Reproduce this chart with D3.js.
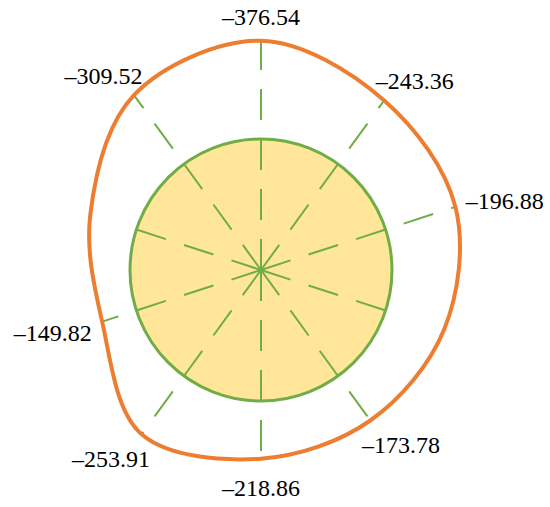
<!DOCTYPE html>
<html>
<head>
<meta charset="utf-8">
<script src="https://cdn.jsdelivr.net/npm/d3@7"></script>
<style>
  html, body { margin: 0; padding: 0; background: #ffffff; }
  svg { display: block; }
  text.lab { font-family: "Liberation Serif", "Times New Roman", Times, serif; }
</style>
</head>
<body>
<div id="chart"></div>
<script>
// ---- data ----
// axes, clockwise from 12 o'clock
const axisIndex = [0, 1, 2, 3, 4, 5, 6, 7, 8, 9];
// values printed at axis ends (null = no label)
const axisValues = [-376.54, -243.36, -196.88, null, -173.78, -218.86, -253.91, -149.82, null, -309.52];
// outer curve, relative to the inner reference circle (= 1)
const curveValues = [1.75, 1.60, 1.56, 1.47, 1.42, 1.44, 1.55, 1.275, 1.37, 1.65];
const innerValue = 1;

// ---- layout ----
const W = 550, H = 507;
const cx = 261, cy = 270;
const R = 131;

const svg = d3.select("#chart").append("svg")
  .attr("width", W).attr("height", H);

const g = svg.append("g").attr("transform", `translate(${cx},${cy})`);

const angle = d3.scaleLinear().domain([0, axisIndex.length]).range([0, 2 * Math.PI]);
const radius = d3.scaleLinear().domain([0, 1]).range([0, R]);

const green = "#70AD47", orange = "#ED7D31", fill = "#FFE699";

// inner filled circle
g.append("circle")
  .attr("r", radius(innerValue))
  .attr("fill", fill);

// spokes
const spokeR = i => radius(axisValues[i] === null ? innerValue : curveValues[i]);
g.selectAll("line.spoke")
  .data(axisIndex)
  .join("line")
  .attr("class", "spoke")
  .attr("x1", 0).attr("y1", 0)
  .attr("x2", i => spokeR(i) * Math.sin(angle(i)))
  .attr("y2", i => -spokeR(i) * Math.cos(angle(i)))
  .attr("stroke", green)
  .attr("stroke-width", 2)
  .attr("stroke-dasharray", "31,19");

// inner circle outline
g.append("circle")
  .attr("r", radius(innerValue))
  .attr("fill", "none")
  .attr("stroke", green)
  .attr("stroke-width", 3);

// outer smooth curve
const line = d3.lineRadial()
  .angle(i => angle(i))
  .radius(i => radius(curveValues[i]))
  .curve(d3.curveCatmullRomClosed.alpha(0.5));

g.append("path")
  .attr("d", line(axisIndex))
  .attr("fill", "none")
  .attr("stroke", orange)
  .attr("stroke-width", 4);

// labels: placed just outside the curve point of each axis
const fmt = v => d3.format(".2f")(v).replace("-", "\u2013").replace("\u2212", "\u2013");
const fontSize = 24;
const offX = 52, offY = 27;
const px = i => radius(curveValues[i]) * Math.sin(angle(i));
const py = i => -radius(curveValues[i]) * Math.cos(angle(i));

g.selectAll("text.lab")
  .data(axisIndex.filter(i => axisValues[i] !== null))
  .join("text")
  .attr("class", "lab")
  .attr("x", i => px(i) + offX * Math.sin(angle(i)))
  .attr("y", i => py(i) - offY * Math.cos(angle(i)))
  .attr("dy", "0.45em")
  .attr("text-anchor", "middle")
  .attr("font-size", fontSize)
  .attr("fill", "#000")
  .text(i => fmt(axisValues[i]));
</script>
</body>
</html>
